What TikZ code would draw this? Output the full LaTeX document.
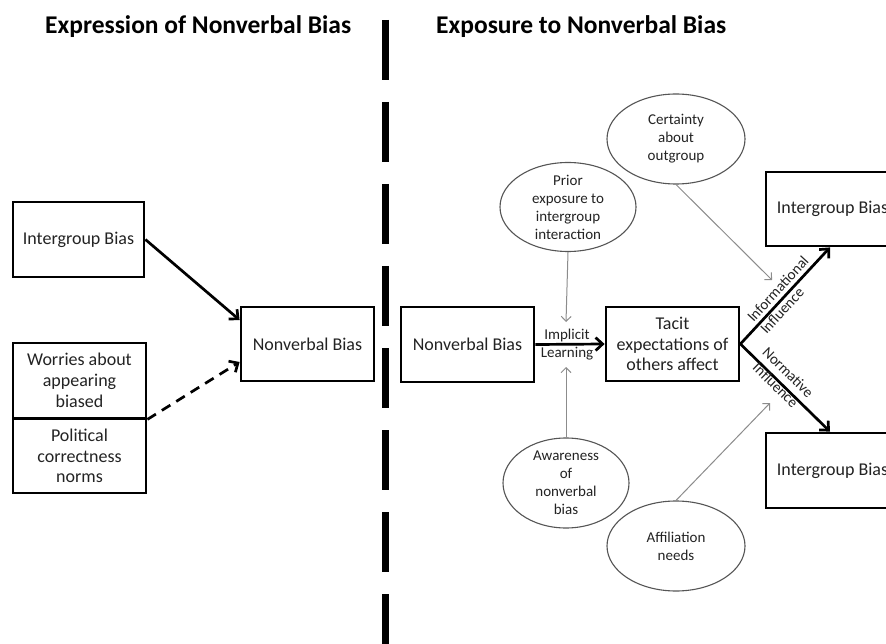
\documentclass[tikz,border=0pt]{standalone}
\usepackage{fontspec}
\setmainfont{Carlito}
\usetikzlibrary{arrows.meta,shapes.geometric}
\definecolor{ovalgray}{RGB}{85,85,85}
\definecolor{arrgray}{RGB}{140,140,140}
\definecolor{txt}{RGB}{35,35,35}
\begin{document}
\begin{tikzpicture}[x=1pt,y=-1pt,
  box/.style={draw=black,line width=2.8pt,minimum width=133pt,minimum height=75pt,inner sep=2pt,align=center,text=txt,font=\fontsize{18}{20.7}\selectfont},
  oval/.style={draw=ovalgray,line width=1.1pt,ellipse,inner sep=0pt},
  ovaltext/.style={align=center,text=txt,inner sep=0pt,font=\fontsize{15}{18}\selectfont},
  bigarrow/.style={line width=2.7pt,-{Straight Barb[length=7pt,width=13pt]}},
  smallarrow/.style={draw=arrgray,line width=1pt,-{Straight Barb[length=5pt,width=10pt]}},
  lbl/.style={font=\fontsize{15}{17.8}\selectfont,text=txt,inner sep=0pt},
  title/.style={font=\bfseries\fontsize{25.5}{30}\selectfont,inner sep=0pt,anchor=base west,text=black}]
\useasboundingbox (0,0) rectangle (886,644);
\fill[white] (0,0) rectangle (886,644);

% titles
\node[title] (t1) at (45,34) {Expression of Nonverbal Bias};
\node[title] (t2) at (436,34) {Exposure to Nonverbal Bias};

% divider
\draw[line width=7pt, dash pattern=on 60pt off 22pt] (385,20) -- (385,662);

% left part
\node[box, minimum width=131pt] (intL) at (78.5,239.5) {Intergroup Bias};
\node[box, minimum height=74pt] (nbL) at (307.5,344) {Nonverbal Bias};
\node[box] (worries) at (79.5,380.5) {Worries about\\appearing\\biased};
\node[box, minimum height=74pt] (polit) at (79.5,456) {Political\\correctness\\norms};

\draw[bigarrow] (intL.east) -- ([yshift=24pt]nbL.west);
\draw[bigarrow, dash pattern=on 10pt off 7pt] (worries.south east) -- ([yshift=-18pt]nbL.west);

% right part
\node[box] (nbR) at (467.5,344.5) {Nonverbal Bias};
\node[box, minimum height=74pt] (tacit) at (672.5,344) {Tacit\\expectations of\\others affect};
\node[box, minimum height=74pt] (intT) at (832.5,209) {Intergroup Bias};
\node[box] (intB) at (832.5,470.5) {Intergroup Bias};

\node[oval, minimum width=136pt, minimum height=89pt,
  label={[ovaltext]center:Prior\\exposure to\\intergroup\\interaction}] (prior) at (568,207) {};
\node[oval, minimum width=138pt, minimum height=90pt,
  label={[ovaltext]center:Certainty\\about\\outgroup}] (cert) at (676,139) {};
\node[oval, minimum width=126pt, minimum height=90pt,
  label={[ovaltext]center:Awareness\\of\\nonverbal\\bias}] (aware) at (566,483) {};
\node[oval, minimum width=138pt, minimum height=90pt,
  label={[ovaltext]center:Affiliation\\needs}] (affil) at (676,546) {};

\draw[bigarrow] (nbR.east) -- (tacit.west)
  node[midway, lbl, align=center, xshift=-3pt] {Implicit\\Learning};
\draw[bigarrow] (tacit.east) -- ([xshift=-2.5pt]intT.south);
\draw[bigarrow] (tacit.east) -- ([xshift=-2.5pt]intB.north);
\node[lbl, align=left, rotate=47.4] (infl1) at (784.3,294.9) {Informational\\Influence};
\node[lbl, align=center, rotate=-44.5] (infl2) at (781.9,378.8) {Normative\\Influence};

\coordinate (pe) at (566,322);
\coordinate (ae) at (566,367);
\coordinate (ce) at (772,280);
\coordinate (fe) at (770,403);
\draw[smallarrow] (prior.south) -- (pe);
\draw[smallarrow] (aware.north) -- (ae);
\draw[smallarrow] (cert.south) -- (ce);
\draw[smallarrow] (affil.north) -- (fe);
\end{tikzpicture}
\end{document}
